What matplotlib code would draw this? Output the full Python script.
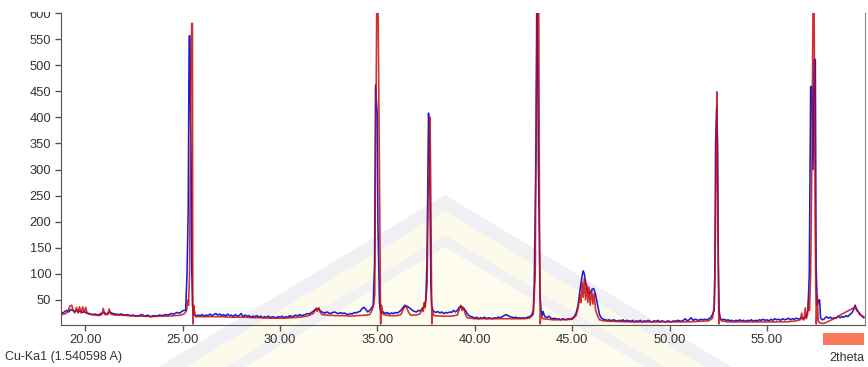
import numpy as np
import matplotlib
matplotlib.use("Agg")
import matplotlib.pyplot as plt
from matplotlib.patches import Polygon, Rectangle

plt.rcParams["font.family"] = ["Liberation Sans", "DejaVu Sans"]

blue_scan = [
    (18.75, 27), (18.85, 25), (18.95, 28), (19.05, 30), (19.15, 27), (19.25, 32), (19.35, 30),
    (19.45, 28), (19.55, 30), (19.65, 27), (19.75, 29), (19.85, 26), (19.95, 28), (20.05, 25),
    (20.2, 24), (20.35, 22), (20.5, 23), (20.65, 21), (20.8, 24), (20.95, 26), (21.1, 23),
    (21.25, 27), (21.4, 24), (21.55, 23), (21.7, 22), (21.85, 23), (22.0, 21), (22.15, 22),
    (22.3, 20), (22.45, 21), (22.6, 19), (22.75, 20), (22.9, 22), (23.05, 19), (23.2, 21),
    (23.35, 18), (23.5, 20), (23.65, 19), (23.8, 21), (23.95, 20), (24.1, 22), (24.25, 21),
    (24.4, 24), (24.55, 23), (24.7, 26), (24.85, 25), (24.95, 28), (25.05, 30),
    (25.15, 30), (25.22, 100), (25.28, 220), (25.33, 556), (25.37, 556), (25.4, 400),
    (25.43, 320), (25.46, 115), (25.5, 40), (25.56, 22),
    (25.6, 22), (25.7, 19), (25.8, 21), (25.9, 20), (26.0, 22), (26.1, 19), (26.2, 21),
    (26.3, 20), (26.4, 23), (26.5, 20), (26.6, 22), (26.7, 24), (26.8, 21), (26.9, 23),
    (27.0, 20), (27.1, 22), (27.2, 19), (27.3, 23), (27.4, 20), (27.5, 21), (27.6, 18),
    (27.7, 22), (27.8, 19), (27.9, 20), (28.0, 24), (28.1, 18), (28.2, 21), (28.3, 19),
    (28.4, 20), (28.5, 17), (28.6, 19), (28.7, 18), (28.8, 20), (28.9, 17), (29.0, 19),
    (29.1, 16), (29.2, 18), (29.3, 17), (29.4, 19), (29.5, 16), (29.6, 18), (29.7, 17),
    (29.8, 16), (29.9, 18), (30.0, 17), (30.1, 19), (30.2, 16), (30.3, 18), (30.4, 17),
    (30.5, 20), (30.6, 18), (30.7, 19), (30.8, 21), (30.9, 19), (31.0, 22), (31.1, 20),
    (31.2, 21), (31.3, 22), (31.4, 24), (31.5, 23),
    (31.6, 26), (31.7, 28), (31.8, 32), (31.9, 34), (32.0, 31), (32.1, 28), (32.2, 26),
    (32.3, 25), (32.4, 27), (32.5, 25), (32.6, 24), (32.7, 26), (32.8, 27), (32.9, 25),
    (33.0, 24), (33.1, 26), (33.2, 24), (33.3, 25), (33.4, 23), (33.5, 22), (33.6, 24),
    (33.7, 23), (33.8, 26), (33.9, 25), (34.0, 27), (34.1, 28), (34.2, 33), (34.3, 36),
    (34.4, 32), (34.5, 27), (34.6, 30), (34.7, 35), (34.78, 40), (34.85, 120), (34.9, 462),
    (34.95, 430), (34.99, 404), (35.02, 200), (35.06, 120), (35.1, 45), (35.15, 30), (35.2, 25),
    (35.3, 27), (35.4, 24), (35.5, 26), (35.6, 23), (35.7, 25), (35.8, 24), (35.9, 26),
    (36.0, 25), (36.1, 27), (36.2, 30), (36.3, 35), (36.4, 40), (36.5, 38), (36.6, 36),
    (36.7, 33), (36.8, 30), (36.9, 28), (37.0, 27), (37.1, 30), (37.2, 29), (37.3, 33),
    (37.4, 38), (37.48, 50), (37.54, 120), (37.58, 260), (37.62, 408), (37.66, 380),
    (37.7, 240), (37.74, 80), (37.78, 40), (37.84, 30), (37.9, 28),
    (38.0, 26), (38.1, 28), (38.2, 25), (38.3, 27), (38.4, 24), (38.5, 26), (38.6, 25),
    (38.7, 27), (38.8, 26), (38.9, 30), (39.0, 27), (39.1, 30), (39.2, 36), (39.3, 38),
    (39.4, 34), (39.5, 31), (39.6, 24), (39.7, 20), (39.8, 18), (39.9, 17), (40.0, 15),
    (40.1, 17), (40.2, 14), (40.3, 16), (40.4, 15), (40.5, 17), (40.6, 14), (40.7, 16),
    (40.8, 15), (40.9, 14), (41.0, 16), (41.1, 15), (41.2, 17), (41.3, 16), (41.4, 18),
    (41.5, 20), (41.6, 22), (41.7, 20), (41.8, 18), (41.9, 17), (42.0, 16), (42.1, 17),
    (42.2, 15), (42.3, 16), (42.4, 15), (42.5, 16), (42.6, 15), (42.7, 17), (42.8, 18),
    (42.9, 20), (43.0, 30), (43.05, 80), (43.1, 232), (43.14, 350), (43.18, 640),
    (43.22, 600), (43.26, 312), (43.3, 200), (43.34, 60), (43.4, 30), (43.45, 20),
    (43.5, 28), (43.55, 22), (43.6, 18), (43.7, 16), (43.8, 19), (43.9, 15), (44.0, 14),
    (44.1, 15), (44.2, 13), (44.3, 14), (44.4, 12), (44.5, 14), (44.6, 13), (44.7, 12),
    (44.8, 14), (44.9, 13), (45.0, 15), (45.1, 18), (45.2, 25), (45.3, 40), (45.4, 70),
    (45.5, 95), (45.56, 106), (45.62, 100), (45.7, 80), (45.8, 65), (45.9, 62), (46.0, 70),
    (46.1, 72), (46.2, 60), (46.3, 40), (46.4, 22), (46.5, 15),
    (46.6, 13), (46.7, 12), (46.8, 11), (46.9, 12), (47.0, 10), (47.1, 12), (47.2, 11),
    (47.3, 9), (47.4, 11), (47.5, 10), (47.6, 12), (47.7, 9), (47.8, 11), (47.9, 10),
    (48.0, 9), (48.1, 11), (48.2, 8), (48.3, 10), (48.4, 9), (48.5, 11), (48.6, 8),
    (48.7, 10), (48.8, 9), (48.9, 11), (49.0, 9), (49.1, 8), (49.2, 10), (49.3, 9),
    (49.4, 11), (49.5, 8), (49.6, 10), (49.7, 9), (49.8, 8), (49.9, 10), (50.0, 9),
    (50.1, 8), (50.2, 10), (50.3, 9), (50.4, 11), (50.5, 10), (50.6, 9), (50.7, 11),
    (50.8, 14), (50.9, 10), (51.0, 12), (51.1, 16), (51.2, 11), (51.3, 13), (51.4, 12),
    (51.5, 11), (51.6, 13), (51.7, 12), (51.8, 13), (51.9, 12), (52.0, 14), (52.1, 16),
    (52.2, 22), (52.28, 30), (52.32, 101), (52.36, 353), (52.42, 420), (52.46, 350),
    (52.5, 120), (52.54, 30), (52.6, 14),
    (52.7, 12), (52.8, 13), (52.9, 11), (53.0, 12), (53.1, 10), (53.2, 11), (53.3, 9),
    (53.4, 11), (53.5, 10), (53.6, 12), (53.7, 10), (53.8, 11), (53.9, 9), (54.0, 11),
    (54.1, 10), (54.2, 12), (54.3, 9), (54.4, 11), (54.5, 10), (54.6, 12), (54.7, 11),
    (54.8, 13), (54.9, 11), (55.0, 12), (55.1, 10), (55.2, 13), (55.3, 11), (55.4, 14),
    (55.5, 12), (55.6, 13), (55.7, 11), (55.8, 14), (55.9, 12), (56.0, 13), (56.1, 15),
    (56.2, 12), (56.3, 14), (56.4, 13), (56.5, 15), (56.6, 14), (56.7, 13), (56.8, 16),
    (56.9, 15), (57.0, 18), (57.1, 30), (57.17, 101), (57.24, 459), (57.3, 459),
    (57.36, 300), (57.42, 511), (57.48, 511), (57.52, 114), (57.58, 40), (57.65, 50),
    (57.7, 50), (57.75, 15), (57.85, 12), (57.95, 14), (58.05, 18), (58.15, 15),
    (58.25, 17), (58.35, 14), (58.45, 16), (58.55, 15), (58.65, 19), (58.75, 16),
    (58.85, 18), (58.95, 17), (59.05, 20), (59.15, 18), (59.25, 22), (59.35, 25),
    (59.45, 32), (59.52, 40), (59.6, 30), (59.7, 27), (59.8, 22), (59.9, 18), (59.97, 16),
]

# second pattern (red), drops to the axis right after each main peak
red_scan = [
    (18.75, 22), (18.9, 23), (19.0, 24), (19.1, 28), (19.2, 38), (19.3, 40), (19.38, 30),
    (19.45, 25), (19.55, 36), (19.62, 25), (19.7, 37), (19.78, 25), (19.86, 37), (19.94, 26),
    (20.02, 36), (20.1, 24), (20.3, 22), (20.5, 21), (20.7, 20), (20.85, 22), (20.92, 34),
    (21.0, 22), (21.15, 22), (21.22, 33), (21.3, 23), (21.5, 21), (21.8, 21), (22.2, 20),
    (22.6, 19), (23.0, 19), (23.4, 18), (23.8, 19), (24.2, 19), (24.6, 20), (24.9, 21),
    (25.1, 24), (25.2, 30), (25.25, 50), (25.3, 40), (25.35, 100), (25.42, 480),
    (25.46, 580), (25.5, 580), (25.52, 4), (25.56, 40), (25.6, 30), (25.66, 18),
    (25.8, 18), (26.2, 18), (26.6, 18), (27.0, 18), (27.4, 17), (27.8, 17), (28.2, 17),
    (28.6, 16), (29.0, 16), (29.4, 15), (29.8, 15), (30.2, 15), (30.6, 16), (31.0, 17),
    (31.4, 19), (31.7, 24), (31.8, 30), (31.85, 34), (31.9, 28), (31.95, 33), (32.0, 35),
    (32.05, 27), (32.15, 22), (32.4, 21), (32.8, 20), (33.2, 20), (33.6, 19), (34.0, 20),
    (34.4, 21), (34.6, 22), (34.72, 30), (34.8, 40), (34.86, 60), (34.9, 300), (34.96, 610),
    (35.03, 610), (35.1, 300), (35.16, 4), (35.2, 40), (35.25, 30), (35.3, 22), (35.6, 20),
    (36.0, 20), (36.2, 22), (36.3, 30), (36.4, 38), (36.5, 35), (36.6, 26), (36.7, 21),
    (37.0, 21), (37.2, 24), (37.3, 35), (37.35, 28), (37.4, 45), (37.45, 35), (37.5, 55),
    (37.55, 80), (37.6, 250), (37.66, 300), (37.7, 400), (37.75, 200), (37.79, 4),
    (37.82, 30), (37.9, 20), (38.3, 19), (38.8, 19), (39.1, 21), (39.2, 32), (39.28, 40),
    (39.34, 30), (39.42, 36), (39.5, 24), (39.6, 16), (40.0, 14), (40.5, 14), (41.0, 14),
    (41.5, 14), (42.0, 14), (42.5, 14), (42.8, 15), (43.0, 22), (43.1, 100), (43.15, 400),
    (43.2, 610), (43.28, 610), (43.32, 200), (43.35, 4), (43.4, 20), (43.5, 14), (44.0, 12),
    (44.5, 12), (45.0, 13), (45.2, 20), (45.3, 35), (45.4, 60), (45.45, 45), (45.5, 85),
    (45.56, 55), (45.62, 92), (45.68, 50), (45.75, 80), (45.8, 45), (45.86, 75), (45.92, 40),
    (46.0, 68), (46.06, 42), (46.12, 62), (46.2, 30), (46.3, 20), (46.4, 12), (46.6, 10),
    (47.0, 9), (48.0, 8), (49.0, 8), (50.0, 8), (51.0, 8), (52.0, 10), (52.2, 15),
    (52.3, 40), (52.36, 200), (52.42, 449), (52.46, 300), (52.52, 4), (52.56, 20),
    (52.65, 10), (53.0, 8), (54.0, 8), (55.0, 8), (56.0, 8), (56.5, 10), (56.7, 12),
    (56.78, 25), (56.84, 12), (56.9, 12), (56.96, 35), (57.02, 14), (57.08, 22), (57.13, 50),
    (57.18, 30), (57.24, 100), (57.3, 300), (57.36, 610), (57.42, 610), (57.47, 200),
    (57.5, 80), (57.53, 4), (57.58, 60), (57.63, 10), (57.7, 6), (57.85, 5), (58.0, 6),
    (58.2, 10), (58.5, 15), (58.8, 22), (59.1, 28), (59.4, 34), (59.55, 37), (59.65, 30),
    (59.75, 22), (59.85, 20), (59.97, 18),
]

y_ticks = [50, 100, 150, 200, 250, 300, 350, 400, 450, 500, 550, 600]
x_ticks = [20, 25, 30, 35, 40, 45, 50, 55]

W, H = 868, 367
fig = plt.figure(figsize=(W / 100, H / 100), dpi=100)

# faint watermark behind the plot, drawn in pixel coordinates
bg = fig.add_axes([0, 0, 1, 1], zorder=0)
bg.set_xlim(0, W)
bg.set_ylim(H, 0)
bg.axis("off")
apex_x, slope = 445, 0.6
for apex_y, col in [(195, "#f0f0f4"), (211, "#fcfaea"), (235, "#f1f1f2"), (247, "#fdfcee")]:
    half = (H + 40 - apex_y) / slope
    bg.add_patch(Polygon([(apex_x, apex_y), (apex_x - half, H + 40), (apex_x + half, H + 40)],
                         closed=True, facecolor=col, edgecolor="none"))

ax = fig.add_axes([61 / W, (H - 324.5) / H, 804 / W, 311.5 / H], zorder=1)
ax.set_facecolor("none")

bx, by = np.array(blue_scan).T
rx, ry = np.array(red_scan).T
ax.plot(bx, by, color="#1c1cd4", lw=1.15, zorder=2)
ax.plot(rx, ry, color="#c80c0c", lw=1.15, alpha=0.85, zorder=3)

ax.set_xlim(18.75, 60.03)
ax.set_ylim(3, 600)
ax.set_xticks(x_ticks)
ax.set_xticklabels([f"{t:.2f}" for t in x_ticks])
ax.set_yticks(y_ticks)
ax.tick_params(direction="out", length=4, width=1, color="#555555",
               labelsize=9.3, labelcolor="#333333", pad=3)

ax.spines["top"].set_visible(False)
for s in ["left", "bottom"]:
    ax.spines[s].set_color("#555555")
ax.spines["right"].set_color("#888888")

# top of the "600" label is cut off in the original
fig.patches.append(Rectangle((0, (H - 12) / H), 58 / W, 12 / H, transform=fig.transFigure,
                             facecolor="white", edgecolor="none", zorder=5))

fig.text(5 / W, (H - 357) / H, "Cu-Ka1 (1.540598 A)", fontsize=9, color="#333333",
         ha="left", va="center")
fig.text(864 / W, (H - 358) / H, "2theta", fontsize=9, color="#333333",
         ha="right", va="center")
fig.patches.append(Rectangle((823 / W, (H - 345) / H), 41 / W, 12 / H, transform=fig.transFigure,
                             facecolor="#f8785a", edgecolor="none", zorder=5))

fig.savefig("out.png", dpi=100)
